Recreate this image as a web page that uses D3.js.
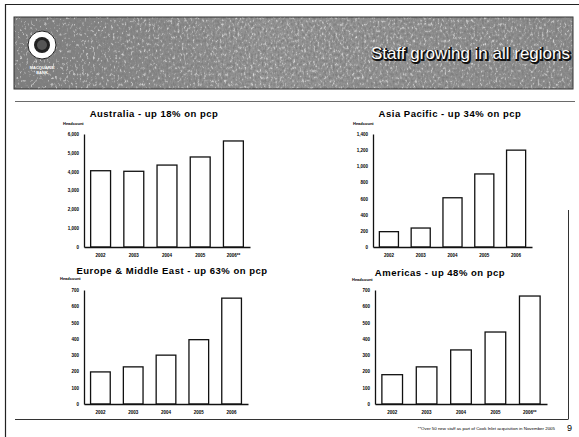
<!DOCTYPE html>
<html>
<head>
<meta charset="utf-8">
<script src="https://cdn.jsdelivr.net/npm/d3@7"></script>
<style>
  body { margin: 0; background: #fff; }
  svg { display: block; font-family: "Liberation Sans", Arial, sans-serif; }
</style>
</head>
<body>
<div class="page"></div>
<script>
// data
var years = ['2002', '2003', '2004', '2005', '2006'];
var yearLabelsStar = ['2002', '2003', '2004', '2005', '2006**'];

var ausValues = [4050, 4020, 4350, 4780, 5630];
var asiaValues = [190, 235, 610, 905, 1200];
var emeaValues = [197, 228, 300, 395, 650];
var amerValues = [180, 228, 332, 442, 663];

var ausTicks = [0, 1000, 2000, 3000, 4000, 5000, 6000];
var asiaTicks = [0, 200, 400, 600, 800, 1000, 1200, 1400];
var emeaTicks = [0, 100, 200, 300, 400, 500, 600, 700];
var amerTicks = [0, 100, 200, 300, 400, 500, 600, 700];

var panels = [
  {title: 'Australia - up 18% on pcp', values: ausValues, labels: yearLabelsStar, ticks: ausTicks,
   x0: 84, x1: 250, y0: 247, y1: 134, tx: 154, ty: 117, hx: 63, hy: 125},
  {title: 'Asia Pacific - up 34% on pcp', values: asiaValues, labels: years, ticks: asiaTicks,
   x0: 373, x1: 532, y0: 247, y1: 134, tx: 450, ty: 117, hx: 353, hy: 125},
  {title: 'Europe & Middle East - up 63% on pcp', values: emeaValues, labels: years, ticks: emeaTicks,
   x0: 84, x1: 248, y0: 404, y1: 290, tx: 172, ty: 274, hx: 60, hy: 280},
  {title: 'Americas - up 48% on pcp', values: amerValues, labels: yearLabelsStar, ticks: amerTicks,
   x0: 375, x1: 547, y0: 404, y1: 290, tx: 440, ty: 276, hx: 352, hy: 281}
];

var W = 579, H = 437;

var svg = d3.select('.page').append('svg')
  .attr('width', W)
  .attr('height', H);

svg.append('rect').attr('width', W).attr('height', H).attr('fill', '#fff');

// scanned-looking texture for the banner
var defs = svg.append('defs');
var f = defs.append('filter').attr('id', 'grain')
  .attr('x', 0).attr('y', 0).attr('width', 1).attr('height', 1);
f.append('feTurbulence').attr('type', 'fractalNoise')
  .attr('baseFrequency', '0.45 0.3').attr('numOctaves', 3).attr('seed', 7).attr('result', 'noise');
f.append('feColorMatrix').attr('in', 'noise').attr('type', 'matrix')
  .attr('values', '0 0 0 0 0.2  0 0 0 0 0.2  0 0 0 0 0.2  0 0 0 -2.2 1.35')
  .attr('result', 'dark');
f.append('feColorMatrix').attr('in', 'noise').attr('type', 'matrix')
  .attr('values', '0 0 0 0 0.85  0 0 0 0 0.85  0 0 0 0 0.85  0 0 0 2.4 -1.45')
  .attr('result', 'light');
f.append('feComposite').attr('in', 'dark').attr('in2', 'SourceGraphic').attr('operator', 'in')
  .attr('result', 'dark2');
f.append('feComposite').attr('in', 'light').attr('in2', 'SourceGraphic').attr('operator', 'in')
  .attr('result', 'light2');
f.append('feMerge').selectAll('feMergeNode').data(['SourceGraphic', 'dark2', 'light2']).enter()
  .append('feMergeNode').attr('in', function(d) { return d; });

var grad = defs.append('linearGradient').attr('id', 'bannerGrad');
grad.append('stop').attr('offset', '0%').attr('stop-color', '#7e7e7e');
grad.append('stop').attr('offset', '45%').attr('stop-color', '#999');
grad.append('stop').attr('offset', '100%').attr('stop-color', '#8f8f8f');

// outer frame lines
svg.append('line').attr('x1', 5).attr('x2', 579).attr('y1', 4.5).attr('y2', 4.5)
  .attr('stroke', '#222').attr('stroke-width', 1);
svg.append('line').attr('x1', 5.5).attr('x2', 5.5).attr('y1', 4).attr('y2', H)
  .attr('stroke', '#222').attr('stroke-width', 1.2);

// banner
svg.append('rect')
  .attr('x', 14).attr('y', 17).attr('width', 559).attr('height', 72)
  .attr('fill', 'url(#bannerGrad)')
  .attr('filter', 'url(#grain)');
svg.append('rect')
  .attr('x', 14).attr('y', 17).attr('width', 559).attr('height', 72)
  .attr('fill', 'none').attr('stroke', '#333').attr('stroke-width', 1);

// logo
var logo = svg.append('g').attr('transform', 'translate(42,45)');
logo.append('circle').attr('r', 14).attr('fill', '#fff').attr('stroke', '#222').attr('stroke-width', 1);
logo.append('circle').attr('r', 8).attr('fill', '#222');
logo.append('circle').attr('r', 5).attr('fill', '#555');
logo.append('text').attr('y', 24).attr('text-anchor', 'middle')
  .attr('font-size', 4).attr('font-weight', 'bold').attr('fill', '#fff').text('MACQUARIE');
logo.append('text').attr('y', 29).attr('text-anchor', 'middle')
  .attr('font-size', 4).attr('font-weight', 'bold').attr('fill', '#fff').text('BANK');

// slide heading with a dark outline/shadow
svg.append('text')
  .attr('x', 571).attr('y', 60)
  .attr('text-anchor', 'end')
  .attr('font-size', 17)
  .attr('fill', '#111')
  .attr('stroke', '#111')
  .attr('stroke-width', 2)
  .text('Staff growing in all regions');
svg.append('text')
  .attr('x', 570).attr('y', 59)
  .attr('text-anchor', 'end')
  .attr('font-size', 17)
  .attr('fill', '#fff')
  .text('Staff growing in all regions');

// content frame
svg.append('line').attr('x1', 15).attr('x2', 575).attr('y1', 101.5).attr('y2', 101.5)
  .attr('stroke', '#444').attr('stroke-width', 0.8);
svg.append('line').attr('x1', 15).attr('x2', 568).attr('y1', 419.5).attr('y2', 419.5)
  .attr('stroke', '#333').attr('stroke-width', 1);
svg.append('line').attr('x1', 568.5).attr('x2', 568.5).attr('y1', 210).attr('y2', 419.5)
  .attr('stroke', '#333').attr('stroke-width', 1);

var fmt = d3.format(',');

panels.forEach(function(p) {
  var x = d3.scaleBand()
    .domain(p.labels)
    .range([p.x0, p.x1])
    .paddingInner(0.4)
    .paddingOuter(0.2);

  var y = d3.scaleLinear()
    .domain([0, d3.max(p.ticks)])
    .range([p.y0, p.y1]);

  var g = svg.append('g');

  g.append('text')
    .attr('x', p.tx).attr('y', p.ty)
    .attr('text-anchor', 'middle')
    .attr('font-size', 9.5)
    .attr('font-weight', 'bold')
    .attr('letter-spacing', 0.5)
    .text(p.title);

  g.append('text')
    .attr('x', p.hx).attr('y', p.hy)
    .attr('font-size', 4)
    .attr('font-weight', 'bold')
    .text('Headcount');

  g.selectAll('rect.bar').data(p.values)
    .enter()
    .append('rect')
    .attr('class', 'bar')
    .attr('x', function(d, i) { return x(p.labels[i]); })
    .attr('width', x.bandwidth())
    .attr('y', function(d) { return y(d); })
    .attr('height', function(d) { return p.y0 - y(d); })
    .attr('fill', '#fff')
    .attr('stroke', '#111')
    .attr('stroke-width', 1.3);

  var yAxis = d3.axisLeft(y)
    .tickValues(p.ticks)
    .tickFormat(fmt)
    .tickSize(0)
    .tickPadding(5);

  var ya = g.append('g')
    .attr('transform', 'translate(' + p.x0 + ',0)')
    .call(yAxis);
  ya.select('.domain').attr('stroke', '#111').attr('stroke-width', 1.3);
  ya.selectAll('text').attr('font-size', 4.5).attr('font-weight', 'bold')
    .attr('font-family', '"Liberation Sans", Arial, sans-serif');

  var xAxis = d3.axisBottom(x).tickSize(0).tickPadding(7);
  var xa = g.append('g')
    .attr('transform', 'translate(0,' + p.y0 + ')')
    .call(xAxis);
  xa.select('.domain').attr('stroke', '#111').attr('stroke-width', 1.5);
  xa.selectAll('text').attr('font-size', 4.5).attr('font-weight', 'bold')
    .attr('font-family', '"Liberation Sans", Arial, sans-serif');
});

// footnote and page number
svg.append('text')
  .attr('x', 555).attr('y', 430)
  .attr('text-anchor', 'end')
  .attr('font-size', 4.4)
  .text('**Over 50 new staff as part of Cook Inlet acquisition in November 2005');
svg.append('text')
  .attr('x', 567).attr('y', 431)
  .attr('font-size', 9)
  .text('9');
</script>
</body>
</html>
